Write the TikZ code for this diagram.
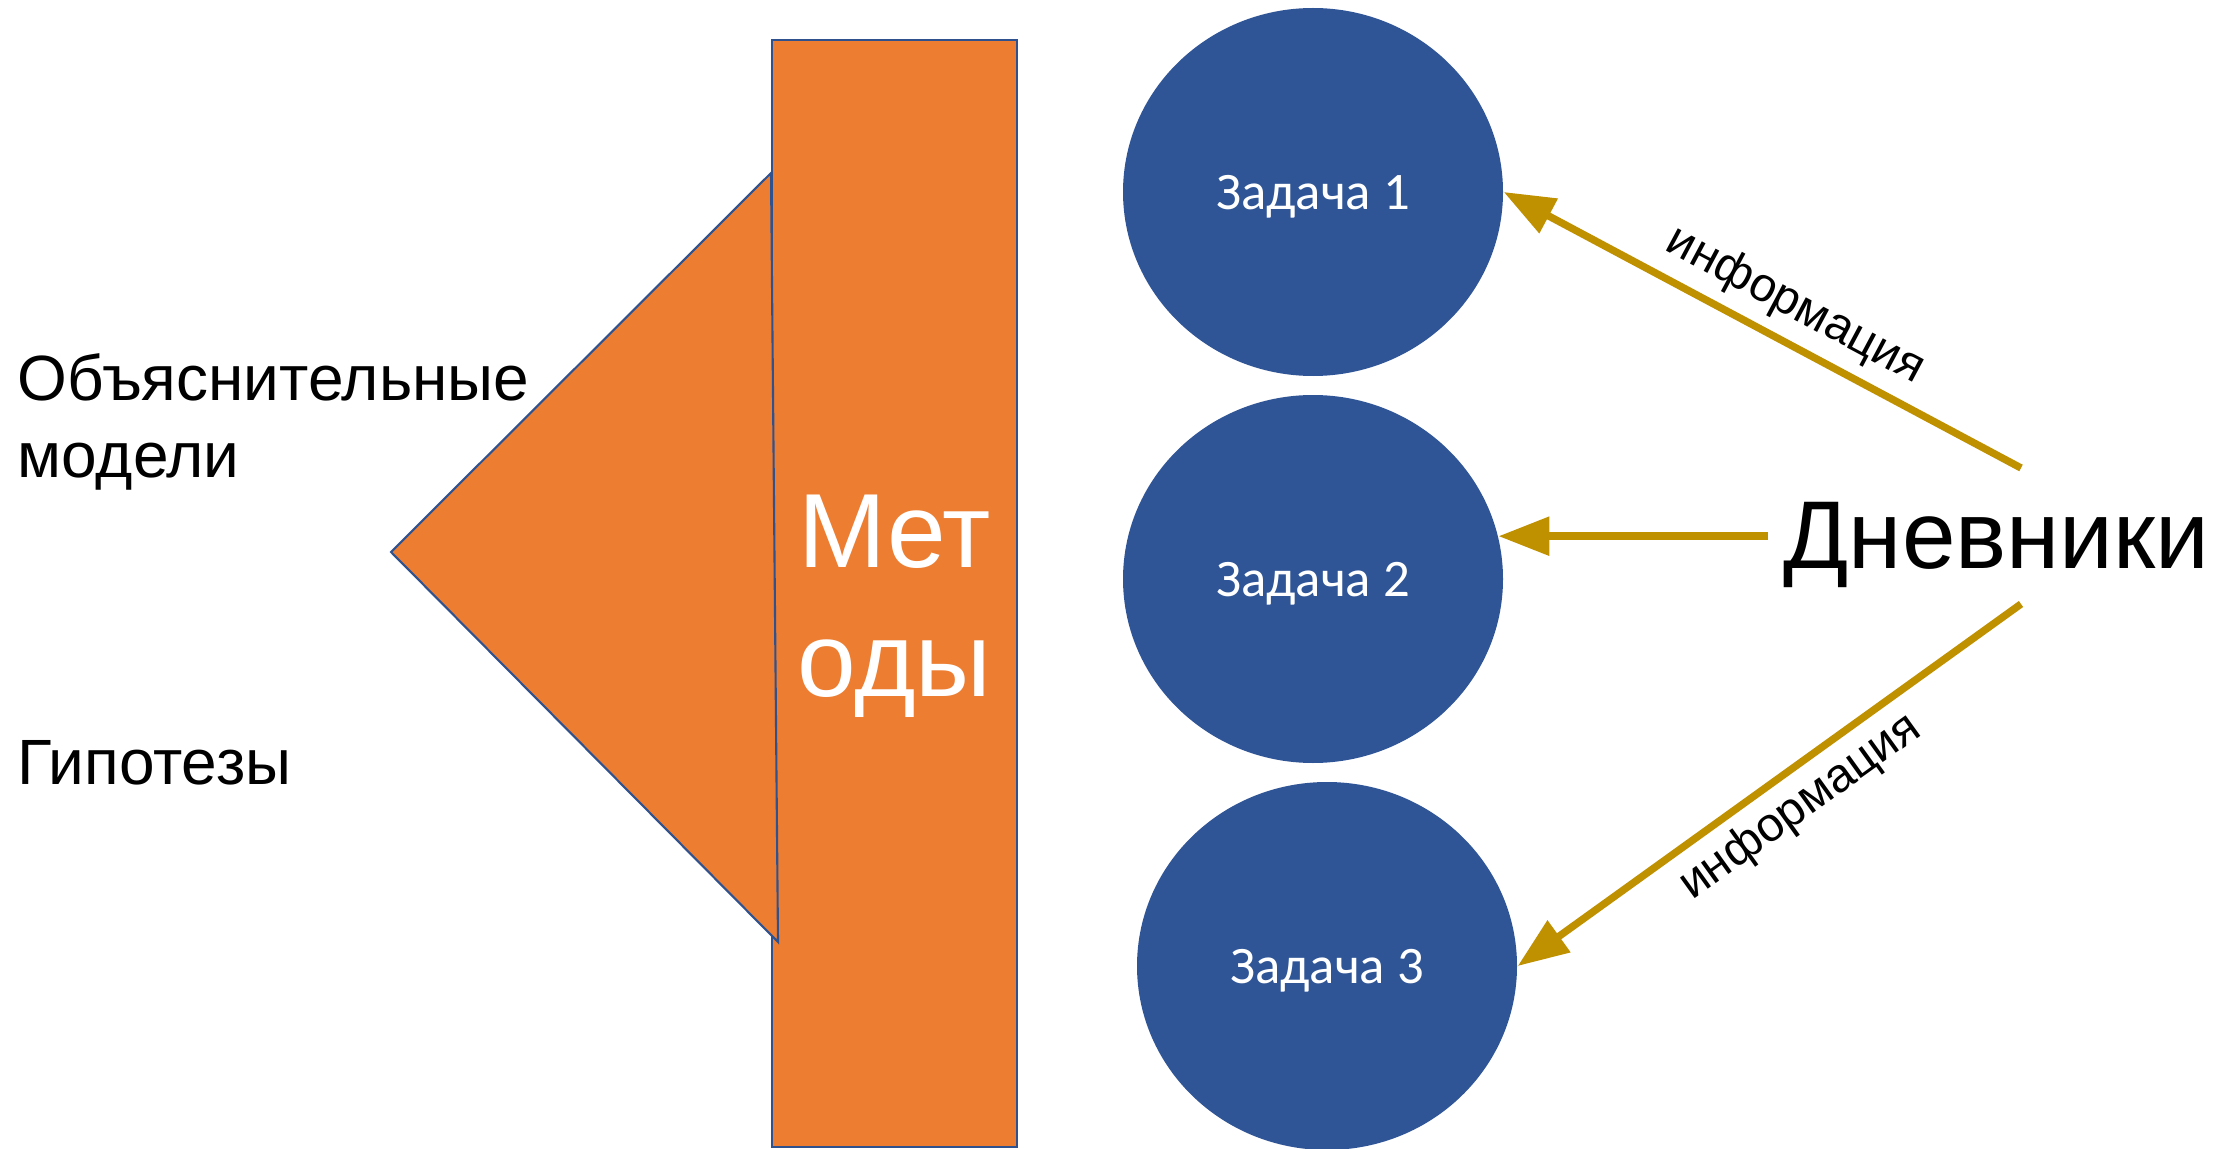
\documentclass[tikz,border=0pt]{standalone}
\usepackage{fontspec}
\setmainfont{Liberation Sans}
\newfontfamily\tareafont{Carlito}
\definecolor{metOrange}{HTML}{ED7D31}
\definecolor{metBlue}{HTML}{2F5597}
\definecolor{metEdge}{HTML}{2F528F}
\definecolor{metGold}{HTML}{BF9000}
\usetikzlibrary{
	arrows.meta,
	calc,
	shapes.geometric
}

\begin{document}
\begin{tikzpicture}[
		tarea/.style={ellipse, fill=metBlue, minimum width=3.8cm, minimum height=3.68cm, inner sep=0pt, text=white, text depth=0pt, font=\tareafont\fontsize{15}{18}\selectfont},
		flecha/.style={-{Triangle[length=14.5pt, width=10.7pt]}, line width=2.1pt, metGold},
		etiqueta/.style={font=\fontsize{13.6}{16}\selectfont, text=black, inner sep=3pt}
	]
		
		% Marco
		\useasboundingbox (0,0) rectangle (22.28,-11.49);
		
		% Barra de metodos y triangulo
		\draw[fill=metOrange, draw=metEdge, line width=0.6pt] (7.72,-0.40) rectangle (10.17,-11.47);
		\draw[fill=metOrange, draw=metEdge, line width=0.6pt] (7.71,-1.73) -- (3.91,-5.52) -- (7.78,-9.42) -- cycle;
		\node[anchor=north, align=center, inner sep=0pt, text=white, font=\fontsize{30}{36.7}\selectfont] (metodos) at (8.945,-4.945) {Мет\\оды};
		
		% Textos de la izquierda
		\node[anchor=north west, align=left, inner sep=0pt, font=\fontsize{18.2}{22}\selectfont] (modelos) at (0.17,-3.53) {Объяснительные\\модели};
		\node[anchor=base west, inner sep=0pt, font=\fontsize{18.2}{22}\selectfont] (hipotesis) at (0.17,-7.84) {Гипотезы};
		
		% Tareas
		\node[tarea] (z1) at (13.13,-1.92) {Задача 1};
		\node[tarea] (z2) at (13.13,-5.79) {Задача 2};
		\node[tarea] (z3) at (13.27,-9.66) {Задача 3};
		
		% Diarios
		\node[anchor=base west, inner sep=0pt, font=\fontsize{27.4}{32}\selectfont] (diarios) at (17.83,-5.68) {Дневники};
		
		% Flechas
		\coordinate (d1) at (20.21,-4.68);
		\coordinate (d2) at ([xshift=2.69cm]z2.13);
		\coordinate (d3) at (20.21,-6.04);
		\draw[flecha] (d1) -- node[etiqueta, sloped, above, pos=0.47] (info1) {информация} (z1.east);
		\draw[flecha] (d2) -- (z2.13);
		\draw[flecha] (d3) -- node[etiqueta, sloped, below, pos=0.48] (info3) {информация} (z3.east);
		
	\end{tikzpicture}
\end{document}
